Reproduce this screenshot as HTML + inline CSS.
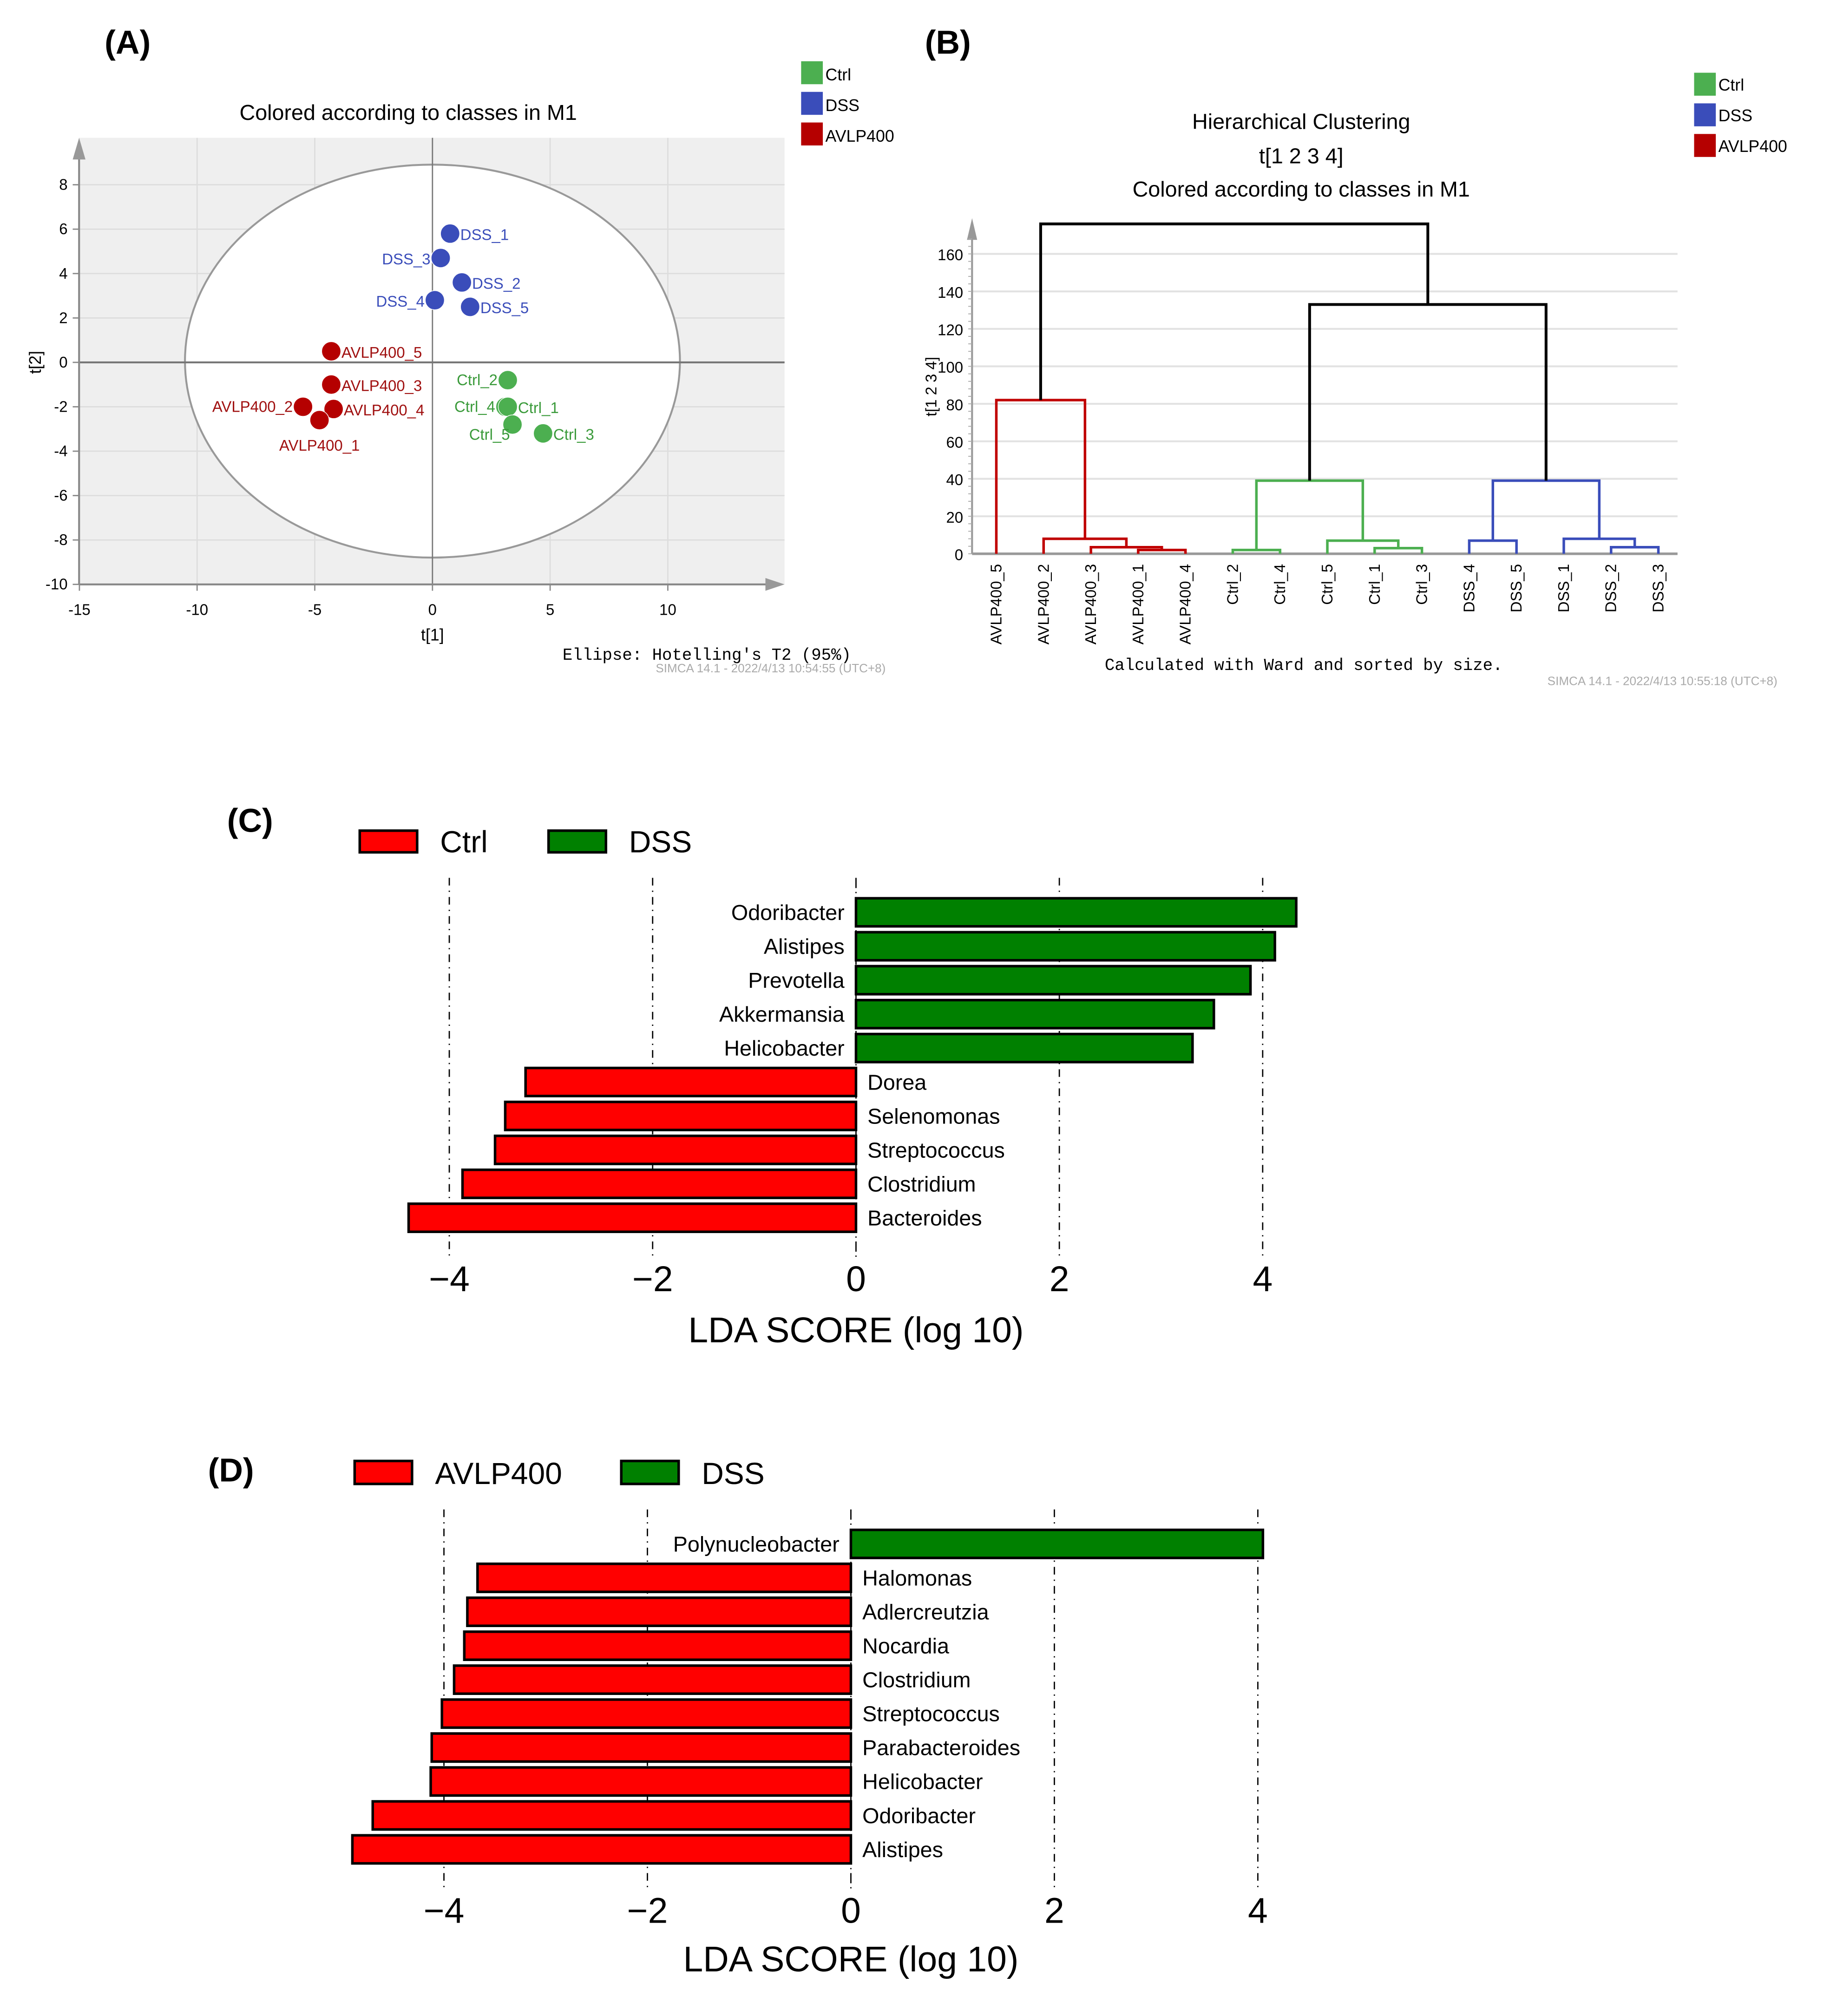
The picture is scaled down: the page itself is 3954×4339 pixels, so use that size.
<!DOCTYPE html>
<html><head><meta charset="utf-8"><style>
html,body{margin:0;padding:0;background:#fff}
svg{display:block}
text{font-family:"Liberation Sans",sans-serif}
.mono{font-family:"Liberation Mono",monospace}
</style></head><body>
<svg id="fig" width="3954" height="4339" viewBox="0 0 1440 1580" preserveAspectRatio="none" xmlns="http://www.w3.org/2000/svg">
<g id="pA">
<text x="82" y="42" font-size="26" font-weight="bold">(A)</text>
<text x="320" y="94" font-size="17" text-anchor="middle">Colored according to classes in M1</text>
<rect x="62" y="108" width="553" height="350" fill="#efefef"/>
<g id="aGrid"></g>
<ellipse cx="339" cy="283" rx="194" ry="154" fill="#fff" stroke="#999" stroke-width="1.5"/>
<g id="aAxes"></g>
<g id="aPts"></g>
<text x="339" y="502" font-size="13" text-anchor="middle">t[1]</text>
<text x="32" y="284" font-size="13" text-anchor="middle" transform="rotate(-90 32 284)">t[2]</text>
<text x="441" y="517" font-size="13" class="mono">Ellipse: Hotelling's T2 (95%)</text>
<text x="514" y="527" font-size="9.5" fill="#aaa">SIMCA 14.1 - 2022/4/13 10:54:55 (UTC+8)</text>
<g>
<rect x="628" y="48" width="17" height="18" fill="#4caf50"/><text x="647" y="63" font-size="13">Ctrl</text>
<rect x="628" y="72" width="17" height="18" fill="#3a4dba"/><text x="647" y="87" font-size="13">DSS</text>
<rect x="628" y="96" width="17" height="18" fill="#b50000"/><text x="647" y="111" font-size="13">AVLP400</text>
</g>
</g>
<g id="pB">
<text x="725" y="42" font-size="26" font-weight="bold">(B)</text>
<text x="1020" y="101" font-size="17" text-anchor="middle">Hierarchical Clustering</text>
<text x="1020" y="128" font-size="17" text-anchor="middle">t[1 2 3 4]</text>
<text x="1020" y="154" font-size="17" text-anchor="middle">Colored according to classes in M1</text>
<g id="bAxes"></g>
<g id="bTree"></g>
<text x="734" y="303" font-size="12" text-anchor="middle" transform="rotate(-90 734 303)">t[1 2 3 4]</text>
<text x="866" y="525" font-size="13" class="mono">Calculated with Ward and sorted by size.</text>
<text x="1213" y="537" font-size="9.5" fill="#aaa">SIMCA 14.1 - 2022/4/13 10:55:18 (UTC+8)</text>
<g>
<rect x="1328" y="57" width="17" height="18" fill="#4caf50"/><text x="1347" y="71" font-size="13">Ctrl</text>
<rect x="1328" y="81" width="17" height="18" fill="#3a4dba"/><text x="1347" y="95" font-size="13">DSS</text>
<rect x="1328" y="105" width="17" height="18" fill="#b50000"/><text x="1347" y="119" font-size="13">AVLP400</text>
</g>
</g>
<g id="pC">
<text x="178" y="652" font-size="26" font-weight="bold">(C)</text>
<rect x="282" y="651" width="45" height="17" fill="#f00" stroke="#000" stroke-width="2"/>
<text x="345" y="668" font-size="24">Ctrl</text>
<rect x="430" y="651" width="45" height="17" fill="#008000" stroke="#000" stroke-width="2"/>
<text x="493" y="668" font-size="24">DSS</text>
<g id="cChart"></g>
<text x="671" y="1052" font-size="28" text-anchor="middle">LDA SCORE (log 10)</text>
</g>
<g id="pD">
<text x="163" y="1161" font-size="26" font-weight="bold">(D)</text>
<rect x="278" y="1145" width="45" height="18" fill="#f00" stroke="#000" stroke-width="2"/>
<text x="341" y="1163" font-size="24">AVLP400</text>
<rect x="487" y="1145" width="45" height="18" fill="#008000" stroke="#000" stroke-width="2"/>
<text x="550" y="1163" font-size="24">DSS</text>
<g id="dChart"></g>
<text x="667" y="1545" font-size="28" text-anchor="middle">LDA SCORE (log 10)</text>
</g>
</svg>
<script>
const NS="http://www.w3.org/2000/svg";
function mk(p,tag,at,txt){const e=document.createElementNS(NS,tag);for(const k in at)e.setAttribute(k,at[k]);if(txt!==undefined)e.textContent=txt;p.appendChild(e);return e;}

const aNames=["DSS_1","DSS_3","DSS_2","DSS_4","DSS_5","AVLP400_5","AVLP400_3","AVLP400_2","AVLP400_4","AVLP400_1","Ctrl_2","Ctrl_4","Ctrl_1","Ctrl_5","Ctrl_3"];
const aT1=[0.75,0.35,1.25,0.1,1.6,-4.3,-4.3,-5.5,-4.2,-4.8,3.2,3.1,3.2,3.4,4.7];
const aT2=[5.8,4.7,3.6,2.8,2.5,0.5,-1.0,-2.0,-2.1,-2.6,-0.8,-2.0,-2.0,-2.8,-3.2];
const aGroup=["DSS","DSS","DSS","DSS","DSS","AVLP","AVLP","AVLP","AVLP","AVLP","Ctrl","Ctrl","Ctrl","Ctrl","Ctrl"];
const aXTicks=[-15,-10,-5,0,5,10];
const aYTicks=[8,6,4,2,0,-2,-4,-6,-8,-10];
const ax=v=>339+v*18.45, ay=v=>284-v*17.4;
const fillC={DSS:"#3a4dba",AVLP:"#b50000",Ctrl:"#4caf50"};
const txtC={DSS:"#3a4dba",AVLP:"#a01010",Ctrl:"#3a9a3a"};
(function(){
 const g=document.getElementById("aGrid");
 aXTicks.forEach(t=>{if(t>-15){const l=mk(g,"line",{x1:ax(t),x2:ax(t),y1:108,y2:458,stroke:"#ddd","stroke-width":1});}});
 aYTicks.forEach(t=>{if(t>-10){const l=mk(g,"line",{x1:62,x2:615,y1:ay(t),y2:ay(t),stroke:"#ddd","stroke-width":1});}});
 const A=document.getElementById("aAxes");
 mk(A,"line",{x1:ax(0),x2:ax(0),y1:108,y2:458,stroke:"#777","stroke-width":1});
 mk(A,"line",{x1:62,x2:615,y1:ay(0),y2:ay(0),stroke:"#777","stroke-width":1.5});
 mk(A,"line",{x1:62,x2:605,y1:458,y2:458,stroke:"#888","stroke-width":1.5});
 mk(A,"line",{x1:62,x2:62,y1:118,y2:458,stroke:"#888","stroke-width":1.5});
 mk(A,"polygon",{points:"600,453 615,458 600,463",fill:"#999"});
 mk(A,"polygon",{points:"57,125 62,108 67,125",fill:"#999"});
 aXTicks.forEach(t=>{mk(A,"line",{x1:ax(t),x2:ax(t),y1:458,y2:463,stroke:"#888"});const e=mk(A,"text",{x:ax(t),y:482,"font-size":12,"text-anchor":"middle"},String(t));});
 aYTicks.forEach(t=>{mk(A,"line",{x1:57,x2:62,y1:ay(t),y2:ay(t),stroke:"#888"});const e=mk(A,"text",{x:53,y:ay(t)+4,"font-size":12,"text-anchor":"end"},String(t));});
 const P=document.getElementById("aPts");
 const lblOff={"DSS_3":[-8,5,"end"],"DSS_4":[-8,5,"end"],"AVLP400_2":[-8,4,"end"],"AVLP400_1":[0,24,"middle"],"Ctrl_2":[-8,4,"end"],"Ctrl_4":[-8,4,"end"],"Ctrl_5":[-2,12,"end"]};
 aNames.forEach((n,i)=>{
  const cx=ax(aT1[i]),cy=ay(aT2[i]),grp=aGroup[i];
  const c=mk(P,"circle",{cx:cx,cy:cy,r:7.5,fill:fillC[grp],stroke:"#fff","stroke-width":0.5});
  
  
  const o=lblOff[n]||[8,5,"start"];
  const t=mk(P,"text",{x:cx+o[0],y:cy+o[1],"font-size":12,fill:txtC[grp],"text-anchor":o[2]},n);
  
  
 });
})();

const bLeaves=["AVLP400_5","AVLP400_2","AVLP400_3","AVLP400_1","AVLP400_4","Ctrl_2","Ctrl_4","Ctrl_5","Ctrl_1","Ctrl_3","DSS_4","DSS_5","DSS_1","DSS_2","DSS_3"];
const bLeafGroup=["AVLP","AVLP","AVLP","AVLP","AVLP","Ctrl","Ctrl","Ctrl","Ctrl","Ctrl","DSS","DSS","DSS","DSS","DSS"];
const bMergeL=[3,2,1,0,5,8,7,"c4",10,13,12,"c8","c7","c3"];
const bMergeR=[4,"c0","c1","c2",6,9,"c5","c6",11,14,"c9","c10","c11","c12"];
const bMergeH=[2,3.5,8,82,2,3,7,39,7,3.5,8,39,133,176];
const bYTicks=[0,20,40,60,80,100,120,140,160];
const bx=i=>781+i*37.07, by=v=>434-v*1.4688;
(function(){
 const A=document.getElementById("bAxes");
 bYTicks.forEach(t=>{if(t>0){const l=mk(A,"line",{x1:762,x2:1315,y1:by(t),y2:by(t),stroke:"#e2e2e2","stroke-width":1.5});}
  const e=mk(A,"text",{x:755,y:by(t)+5,"font-size":12,"text-anchor":"end"},String(t));});
 mk(A,"line",{x1:762,x2:762,y1:180,y2:434,stroke:"#999","stroke-width":1.5});
 mk(A,"polygon",{points:"758,188 762,171 766,188",fill:"#999"});
 for(let v=0;v<=170;v+=4){mk(A,"line",{x1:759,x2:762,y1:by(v),y2:by(v),stroke:"#aaa","stroke-width":0.7});}
 mk(A,"line",{x1:762,x2:1315,y1:434,y2:434,stroke:"#999","stroke-width":2});
 bLeaves.forEach((n,i)=>{const e=mk(A,"text",{x:bx(i)+4,y:442,"font-size":12,"text-anchor":"end",transform:`rotate(-90 ${bx(i)+4} 442)`},n);});
 const T=document.getElementById("bTree");
 const nodes=[];
 const info=r=>{if(typeof r==="number")return{x:bx(r),h:0,g:bLeafGroup[r]};return nodes[+r.slice(1)];};
 bMergeL.forEach((l,k)=>{
  const L=info(l),R=info(bMergeR[k]),h=bMergeH[k];
  const g=(L.g===R.g)?L.g:"mix";
  const col=g==="mix"?"#000":{AVLP:"#c00000",Ctrl:"#4caf50",DSS:"#3a4dba"}[g];
  const p=mk(T,"path",{d:`M${L.x},${by(L.h)}V${by(h)}H${R.x}V${by(R.h)}`,fill:"none",stroke:col,"stroke-width":g==="mix"?2.2:2});
  
  
  nodes.push({x:(L.x+R.x)/2,h:h,g:g});
 });
})();

const cTaxa=["Odoribacter","Alistipes","Prevotella","Akkermansia","Helicobacter","Dorea","Selenomonas","Streptococcus","Clostridium","Bacteroides"];
const cScores=[4.33,4.12,3.88,3.52,3.31,-3.25,-3.45,-3.55,-3.87,-4.4];
const dTaxa=["Polynucleobacter","Halomonas","Adlercreutzia","Nocardia","Clostridium","Streptococcus","Parabacteroides","Helicobacter","Odoribacter","Alistipes"];
const dScores=[4.05,-3.67,-3.77,-3.8,-3.9,-4.02,-4.12,-4.13,-4.7,-4.9];
const ldaTicks=[-4,-2,0,2,4];
const ldaTickLabels=["\u22124","\u22122","0","2","4"];
function lda(id,taxa,scores,x0,unit,y0,step,gTop,gBot,tickY,pre){
 const G=document.getElementById(id);
 const sx=v=>x0+v*unit;
 ldaTicks.forEach((t,i)=>{
  const l=mk(G,"line",{x1:sx(t),x2:sx(t),y1:gTop,y2:gBot,stroke:"#000","stroke-width":1,"stroke-dasharray":t===0?"8,3,1,3":"6,4,1,4"});
  
  
  const e=mk(G,"text",{x:sx(t),y:tickY,"font-size":28,"text-anchor":"middle"},ldaTickLabels[i]);
  
  
 });
 taxa.forEach((n,i)=>{
  const v=scores[i],cy=y0+i*step,x1=Math.min(sx(0),sx(v)),w=Math.abs(sx(v)-sx(0));
  const r=mk(G,"rect",{x:x1,y:cy-11,width:w,height:22,fill:v>0?"#008000":"#f00",stroke:"#000","stroke-width":2});
  
  
  const t=mk(G,"text",{x:v>0?sx(0)-9:sx(0)+9,y:cy+6,"font-size":17,"text-anchor":v>0?"end":"start"},n);
  
  
 });
}
lda("cChart",cTaxa,cScores,671,79.7,715,26.6,688,985,1012,"c");
lda("dChart",dTaxa,dScores,667,79.75,1210,26.6,1183,1480,1507,"d");
</script>
</body></html>
